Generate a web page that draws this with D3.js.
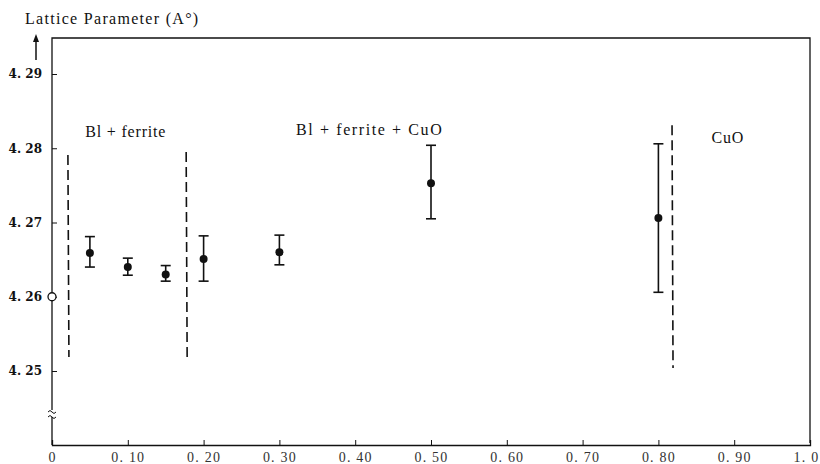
<!DOCTYPE html>
<html>
<head>
<meta charset="utf-8">
<script src="https://cdn.jsdelivr.net/npm/d3@7"></script>
<style>
  body { margin: 0; background: #fff; }
  svg { display: block; }
</style>
</head>
<body>
<div id="chart"></div>
<script>
// composition (x) and lattice parameter (A°) with error bars
const compositions = [0.05, 0.10, 0.15, 0.20, 0.30, 0.50, 0.80];
const lattice = [4.2659, 4.2640, 4.2630, 4.2651, 4.2660, 4.2753, 4.2706];
const errLow = [4.2640, 4.2629, 4.2621, 4.2621, 4.2643, 4.2705, 4.2606];
const errHigh = [4.2681, 4.2652, 4.2642, 4.2682, 4.2683, 4.2804, 4.2806];

// reference point at x = 0 (open circle)
const refX = 0, refY = 4.26;

// dashed phase boundaries
const boundaryX = [0.021, 0.177, 0.818];
const boundaryTop = [4.2791, 4.2795, 4.2831];
const boundaryBottom = [4.2519, 4.2512, 4.2504];

const xTicks = [0, 0.1, 0.2, 0.3, 0.4, 0.5, 0.6, 0.7, 0.8, 0.9, 1.0];
const xTickLabels = ["0", "0. 10", "0. 20", "0. 30", "0. 40", "0. 50", "0. 60", "0. 70", "0. 80", "0. 90", "1. 0"];
const yTicks = [4.25, 4.26, 4.27, 4.28, 4.29];
const yTickLabels = ["4. 25", "4. 26", "4. 27", "4. 28", "4. 29"];

const phaseLabels = ["Bl + ferrite", "Bl + ferrite + CuO", "CuO"];
const phaseLabelX = [0.044, 0.322, 0.87];
const phaseLabelY = [4.2815, 4.2818, 4.2807];

const W = 820, H = 464;
const x0 = 52, x1 = 810, yAxisBottom = 445, frameTop = 38;

const svg = d3.select("#chart").append("svg")
  .attr("width", W).attr("height", H);

const x = d3.scaleLinear().domain([0, 1]).range([x0, x1]);
const y = d3.scaleLinear().domain([4.25, 4.29]).range([371, 74]);

const ink = "#111";
const serif = "'DejaVu Serif', 'Liberation Serif', serif";
const times = "'Liberation Serif', 'DejaVu Serif', serif";

// frame: left axis, top, right, bottom
svg.append("path")
  .attr("d", `M${x0},${yAxisBottom} L${x0},${frameTop} L${x1},${frameTop} L${x1},${yAxisBottom - 2}`)
  .attr("fill", "none").attr("stroke", ink).attr("stroke-width", 1.3);

// bottom axis
const xAxis = d3.axisBottom(x)
  .tickValues(xTicks)
  .tickSize(-5)
  .tickFormat((d, i) => xTickLabels[i]);

const gx = svg.append("g")
  .attr("transform", `translate(0,${yAxisBottom})`)
  .call(xAxis);
gx.select(".domain").attr("stroke", ink).attr("stroke-width", 1.3);
gx.selectAll(".tick line").attr("stroke", ink);
gx.selectAll(".tick text")
  .attr("dy", "1.0em")
  .style("font-family", times)
  .style("font-size", "14px")
  .style("letter-spacing", "1.2px")
  .attr("fill", "#333");
gx.selectAll(".tick text").filter((d, i) => i === xTicks.length - 1).attr("dx", "-4");

// left axis ticks (inside)
const yAxis = d3.axisLeft(y)
  .tickValues(yTicks)
  .tickSize(-5)
  .tickPadding(10)
  .tickFormat((d, i) => yTickLabels[i]);

const gy = svg.append("g")
  .attr("transform", `translate(${x0},0)`)
  .call(yAxis);
gy.select(".domain").remove();
gy.selectAll(".tick line").attr("stroke", ink);
gy.selectAll(".tick text")
  .style("font-family", serif)
  .style("font-size", "12px")
  .style("font-weight", "bold")
  .attr("fill", ink);

// axis break on the y axis
const breakY = 414;
svg.append("rect").attr("x", x0 - 3).attr("y", breakY - 4).attr("width", 6).attr("height", 7).attr("fill", "#fff");
[breakY - 3, breakY + 2].forEach(by => {
  svg.append("path")
    .attr("d", `M${x0 - 4},${by + 1} q2,-3 4,0 q2,3 4,0`)
    .attr("fill", "none").attr("stroke", ink).attr("stroke-width", 1);
});

// y axis title and arrow
svg.append("text")
  .attr("x", 25).attr("y", 24)
  .style("font-family", times)
  .style("font-size", "16px")
  .style("letter-spacing", "1.3px")
  .attr("fill", ink)
  .text("Lattice Parameter (A°)");

svg.append("line")
  .attr("x1", 36).attr("y1", 60).attr("x2", 36).attr("y2", 38)
  .attr("stroke", ink).attr("stroke-width", 1.5);
svg.append("path")
  .attr("d", "M36,34 L33,42 L39,42 Z")
  .attr("fill", ink);

// dashed phase boundaries
svg.selectAll(".boundary")
  .data(boundaryX)
  .enter()
  .append("line")
  .attr("class", "boundary")
  .attr("x1", d => x(d))
  .attr("x2", d => x(d) + 1)
  .attr("y1", (d, i) => y(boundaryTop[i]))
  .attr("y2", (d, i) => y(boundaryBottom[i]))
  .attr("stroke", ink)
  .attr("stroke-width", 1.6)
  .attr("stroke-dasharray", "10,5");

// phase labels
svg.selectAll(".phase")
  .data(phaseLabels)
  .enter()
  .append("text")
  .attr("x", (d, i) => x(phaseLabelX[i]))
  .attr("y", (d, i) => y(phaseLabelY[i]))
  .style("font-family", times)
  .style("font-size", "16px")
  .style("letter-spacing", (d, i) => i === 1 ? "1.6px" : "0.8px")
  .attr("fill", ink)
  .text(d => d);

// error bars
const bars = svg.selectAll(".err")
  .data(compositions)
  .enter()
  .append("g")
  .attr("class", "err");

bars.append("line")
  .attr("x1", d => x(d)).attr("x2", d => x(d))
  .attr("y1", (d, i) => y(errHigh[i]))
  .attr("y2", (d, i) => y(errLow[i]))
  .attr("stroke", ink).attr("stroke-width", 1.6);

[errHigh, errLow].forEach(arr => {
  bars.append("line")
    .attr("x1", d => x(d) - 5).attr("x2", d => x(d) + 5)
    .attr("y1", (d, i) => y(arr[i]))
    .attr("y2", (d, i) => y(arr[i]))
    .attr("stroke", ink).attr("stroke-width", 1.6);
});

bars.append("circle")
  .attr("cx", d => x(d))
  .attr("cy", (d, i) => y(lattice[i]))
  .attr("r", 4)
  .attr("fill", ink);

// open circle reference point
svg.append("circle")
  .attr("cx", x(refX))
  .attr("cy", y(refY))
  .attr("r", 4)
  .attr("fill", "#fff")
  .attr("stroke", ink)
  .attr("stroke-width", 1.3);
</script>
</body>
</html>
